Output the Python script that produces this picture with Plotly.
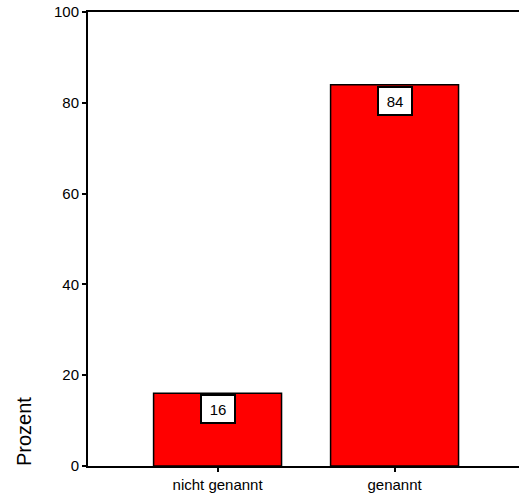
import plotly.graph_objects as go

categories = ["nicht genannt", "genannt"]
percent = [16, 84]
label_texts = ["16", "84"]
y_ticks = [0, 20, 40, 60, 80, 100]

FONT = "Liberation Sans, Arial, sans-serif"

fig = go.Figure()
fig.add_trace(go.Bar(
    x=[0, 1],
    y=percent,
    width=0.723,
    marker=dict(color="#ff0000", line=dict(color="black", width=1.5)),
    hoverinfo="skip",
))

for i, (v, t) in enumerate(zip(percent, label_texts)):
    fig.add_annotation(
        x=i, y=v, xref="x", yref="y", text=t, showarrow=False,
        yanchor="top", yshift=-1,
        font=dict(family=FONT, size=15, color="black"),
        bgcolor="white", bordercolor="black", borderwidth=2,
        width=28, height=22, borderpad=2,
    )

fig.add_annotation(
    xref="paper", yref="paper", x=-0.1485, y=0.077, text="Prozent",
    textangle=-90, showarrow=False, xanchor="center", yanchor="middle",
    font=dict(family=FONT, size=20, color="black"),
)

fig.update_layout(
    width=519, height=496,
    margin=dict(l=88, r=0, t=12, b=30),
    paper_bgcolor="white", plot_bgcolor="white",
    showlegend=False,
    font=dict(family=FONT, size=15, color="black"),
    xaxis=dict(
        range=[-0.732, 1.703],
        tickmode="array", tickvals=[0, 1], ticktext=categories,
        showline=True, linecolor="black", linewidth=2, mirror=True,
        ticks="outside", ticklen=4, tickwidth=1.5, tickcolor="black",
        showgrid=False, zeroline=False,
        tickfont=dict(family=FONT, size=15, color="black"),
    ),
    yaxis=dict(
        range=[0, 100],
        tickmode="array", tickvals=y_ticks, ticktext=[str(v) for v in y_ticks],
        showline=True, linecolor="black", linewidth=2,
        ticks="outside", ticklen=4, tickwidth=1.5, tickcolor="black",
        showgrid=False, zeroline=False,
        tickfont=dict(family=FONT, size=15, color="black"),
    ),
)

fig.write_html(
    "out.html",
    config={"displayModeBar": False},
    post_script="document.body.style.margin='0';document.body.style.overflow='hidden';",
)
